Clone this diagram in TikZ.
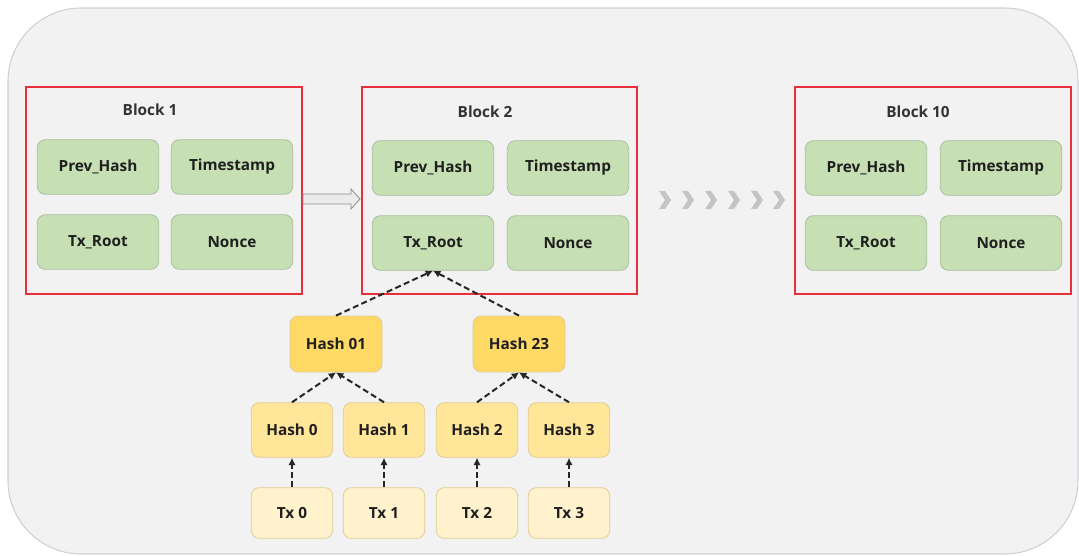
\documentclass[tikz,border=0pt]{standalone}
\usepackage{fontspec}
\setmainfont{Open Sans}
\usetikzlibrary{arrows.meta}
\definecolor{bgfill}{HTML}{F2F2F2}
\definecolor{bgline}{HTML}{CDD1D6}
\definecolor{blockred}{HTML}{E8303C}
\definecolor{gfill}{HTML}{C6E0B4}
\definecolor{gline}{HTML}{A9BFA0}
\definecolor{yA}{HTML}{FFD966}
\definecolor{yB}{HTML}{FFE699}
\definecolor{yC}{HTML}{FFF2CC}
\definecolor{yline}{HTML}{E0CB94}
\definecolor{chev}{HTML}{C4C4C4}
\tikzset{
  x=0.75pt, y=-0.75pt,
  blockbox/.style={draw=blockred, line width=1.6pt},
  txt/.style={font=\fontsize{11.5}{13}\selectfont\bfseries, text=black!88},
  field/.style={txt, draw=gline, fill=gfill, rounded corners=6pt, line width=0.6pt,
    minimum width=91pt, minimum height=41pt, inner sep=0pt},
  hashtop/.style={txt, draw=yline, fill=yA, rounded corners=6pt, line width=0.6pt,
    minimum width=69pt, minimum height=42pt, inner sep=0pt},
  hashleaf/.style={txt, draw=yline, fill=yB, rounded corners=6pt, line width=0.6pt,
    minimum width=61pt, minimum height=41pt, inner sep=0pt},
  txbox/.style={txt, draw=yline, fill=yC, rounded corners=6pt, line width=0.6pt,
    minimum width=61pt, minimum height=38pt, inner sep=0pt},
  title/.style={txt, text=black!80},
  link/.style={dash pattern=on 4.5pt off 2.5pt, line width=1.5pt, black!85,
    -{Latex[length=5.5pt,width=5.5pt]}},
  chevron/.style={fill=chev, draw=none},
  hollowarrow/.style={draw=black!45, fill=black!8, line width=0.6pt},
}
\begin{document}
\begin{tikzpicture}
\useasboundingbox (0,0) rectangle (1079,556);
% background panel
\draw[fill=bgfill, draw=bgline, line width=0.8pt, rounded corners=55pt] (8,8) rectangle (1078,554);

% Block frames
\draw[blockbox] (26,87) rectangle (302,294);
\draw[blockbox] (362,87) rectangle (637,294);
\draw[blockbox] (795,87) rectangle (1071,294);

% Titles
\node[title] (t1) at (150,110) {Block 1};
\node[title] (t2) at (485,112) {Block 2};
\node[title] (t10) at (918,112) {Block 10};

% Block 1 fields
\node[field] (p1) at (98,167) {Prev\_Hash};
\node[field] (s1) at (232,167) {Timestamp};
\node[field] (r1) at (98,242) {Tx\_Root};
\node[field] (n1) at (232,242) {Nonce};
% Block 2 fields
\node[field] (p2) at (433,168) {Prev\_Hash};
\node[field] (s2) at (568,168) {Timestamp};
\node[field] (r2) at (433,243) {Tx\_Root};
\node[field] (n2) at (568,243) {Nonce};
% Block 10 fields
\node[field] (p10) at (866,168) {Prev\_Hash};
\node[field] (s10) at (1001,168) {Timestamp};
\node[field] (r10) at (866,243) {Tx\_Root};
\node[field] (n10) at (1001,243) {Nonce};

% hollow arrow block 1 -> block 2
\coordinate (a0) at (303,199);
\draw[hollowarrow] (303,194) -- (351,194) -- (351,189) -- (360,199) -- (351,209) -- (351,204) -- (303,204) -- cycle;

% chevrons
\foreach \cx in {664,687,710,733,756,778} {
  \fill[chevron] (\cx-5,191) -- (\cx+1,191) -- (\cx+7,200) -- (\cx+1,209) -- (\cx-5,209) -- (\cx+1,200) -- cycle;
}

% Merkle tree
\node[hashtop] (h01) at (336,344) {Hash 01};
\node[hashtop] (h23) at (519,344) {Hash 23};
\node[hashleaf] (h0) at (292,430) {Hash 0};
\node[hashleaf] (h1) at (384,430) {Hash 1};
\node[hashleaf] (h2) at (477,430) {Hash 2};
\node[hashleaf] (h3) at (569,430) {Hash 3};
\node[txbox] (tx0) at (292,513) {Tx 0};
\node[txbox] (tx1) at (384,513) {Tx 1};
\node[txbox] (tx2) at (477,513) {Tx 2};
\node[txbox] (tx3) at (569,513) {Tx 3};

\draw[link] (h01.north) -- (r2.south);
\draw[link] (h23.north) -- (r2.south);
\draw[link] (h0.north) -- (h01.south);
\draw[link] (h1.north) -- (h01.south);
\draw[link] (h2.north) -- (h23.south);
\draw[link] (h3.north) -- (h23.south);
\draw[link] (tx0.north) -- (h0.south);
\draw[link] (tx1.north) -- (h1.south);
\draw[link] (tx2.north) -- (h2.south);
\draw[link] (tx3.north) -- (h3.south);
\end{tikzpicture}
\end{document}
